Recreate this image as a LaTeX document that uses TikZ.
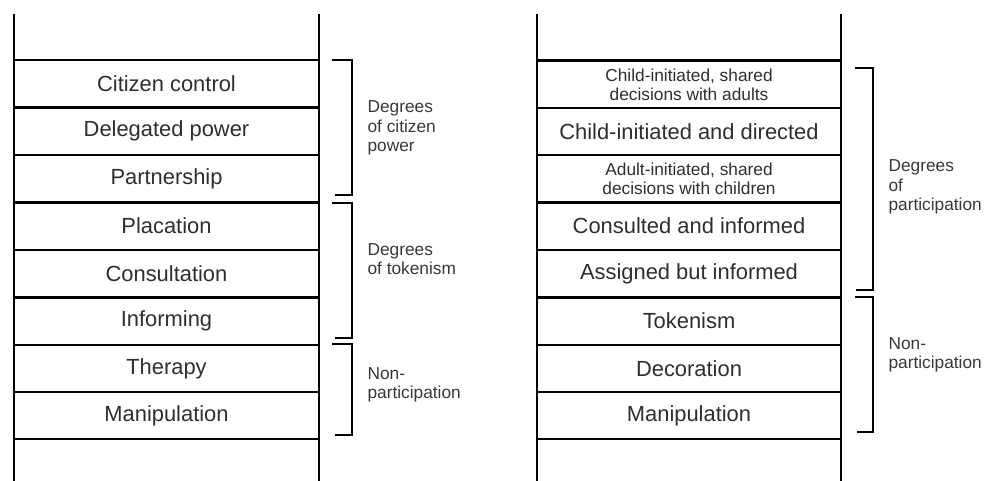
\documentclass[tikz,border=0pt]{standalone}
\usepackage{fontspec}
\setmainfont{Liberation Sans}
\begin{document}
\begin{tikzpicture}[x=1pt,y=-1pt,
  rail/.style={line width=2.8pt},
  rung/.style={line width=2.8pt},
  brk/.style={line width=2.3pt},
  big/.style={font=\fontsize{21.9}{24}\selectfont, text=black!82},
  sml/.style={font=\fontsize{17.3}{19}\selectfont, text=black!82, align=center},
  side/.style={font=\fontsize{17.3}{19.5}\selectfont, text=black!78, align=left, anchor=west}]
\useasboundingbox (0,0) rectangle (984,481);
% left ladder
\draw[rail] (14,14) -- (14,481);
\draw[rail] (319,14) -- (319,481);
\foreach \y in {60,107.5,155,202.5,250,297.5,345,392,439}
  \draw[rung] (14,\y) -- (319,\y);
\node[big] (l1) at (166.5,84) {Citizen control};
\node[big] (l2) at (166.5,131) {Delegated power};
\node[big] (l3) at (166.5,179) {Partnership};
\node[big] (l4) at (166.5,226) {Placation};
\node[big] (l5) at (166.5,274) {Consultation};
\node[big] (l6) at (166.5,321) {Informing};
\node[big] (l7) at (166.5,368.5) {Therapy};
\node[big] (l8) at (166.5,415.5) {Manipulation};
% left brackets
\draw[brk] (332,60) -- (352,60) -- (352,195) -- (335,195);
\draw[brk] (332,203) -- (352,203) -- (352,338) -- (335,338);
\draw[brk] (332,344) -- (352,344) -- (352,435) -- (335,435);
\node[side] (g1) at (364,128) {Degrees\\of citizen\\power};
\node[side] (g2) at (364,259) {Degrees\\of tokenism};
\node[side] (g3) at (364,385) {Non-\\participation};
% right ladder
\draw[rail] (537,14) -- (537,481);
\draw[rail] (841,14) -- (841,481);
\foreach \y in {60.5,108,155,202.5,250,297.5,345,392,439}
  \draw[rung] (537,\y) -- (841,\y);
\node[sml] (r1) at (689,85) {Child-initiated, shared\\decisions with adults};
\node[big] (r2) at (689,131.5) {Child-initiated and directed};
\node[sml] (r3) at (689,179) {Adult-initiated, shared\\decisions with children};
\node[big] (r4) at (689,226) {Consulted and informed};
\node[big] (r5) at (689,274) {Assigned but informed};
\node[big] (r6) at (689,321) {Tokenism};
\node[big] (r7) at (689,368.5) {Decoration};
\node[big] (r8) at (689,415.5) {Manipulation};
% right brackets
\draw[brk] (855,68) -- (873,68) -- (873,290) -- (856,290);
\draw[brk] (855,297) -- (873,297) -- (873,432) -- (857,432);
\node[side] (p1) at (885,187) {Degrees\\of\\participation};
\node[side] (p2) at (885,355) {Non-\\participation};
\end{tikzpicture}
\end{document}
